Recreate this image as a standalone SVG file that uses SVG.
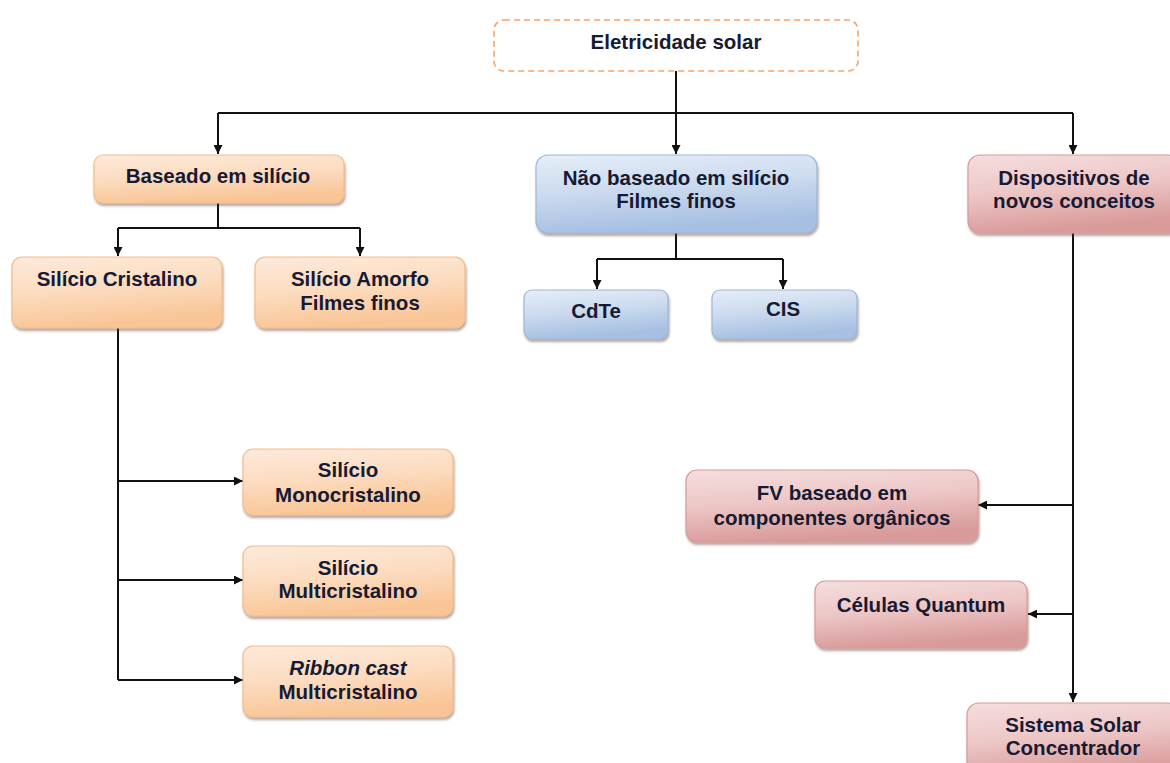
<svg xmlns="http://www.w3.org/2000/svg" width="1170" height="763" viewBox="0 0 1170 763">
<defs>
<linearGradient id="gO" x1="0" y1="0" x2="0.25" y2="1"><stop offset="0" stop-color="#fdeadb"/><stop offset="0.5" stop-color="#fcdcc0"/><stop offset="1" stop-color="#f9c596"/></linearGradient>
<linearGradient id="gB" x1="0" y1="0" x2="0.25" y2="1"><stop offset="0" stop-color="#e6eef8"/><stop offset="0.5" stop-color="#cbdaee"/><stop offset="1" stop-color="#a6bfe2"/></linearGradient>
<linearGradient id="gR" x1="0" y1="0" x2="0.25" y2="1"><stop offset="0" stop-color="#f5dede"/><stop offset="0.5" stop-color="#edc6c6"/><stop offset="1" stop-color="#d99a9a"/></linearGradient>
<filter id="sh" x="-10%" y="-10%" width="120%" height="130%"><feDropShadow dx="1" dy="2.5" stdDeviation="1" flood-color="#5a3a2a" flood-opacity="0.45"/></filter>
<marker id="ah" viewBox="0 0 10 10" refX="10" refY="5" markerWidth="9" markerHeight="9" markerUnits="userSpaceOnUse" orient="auto"><path d="M0,0 L10,5 L0,10 z" fill="#111"/></marker>
<style>
.t{font-family:"Liberation Sans",Arial,sans-serif;font-weight:bold;font-size:20.5px;fill:#171a33;text-anchor:middle}
.o{fill:url(#gO);stroke:#f6bb8a;stroke-width:1.2;filter:url(#sh)}
.b{fill:url(#gB);stroke:#9cb7da;stroke-width:1.2;filter:url(#sh)}
.r{fill:url(#gR);stroke:#d9999a;stroke-width:1.2;filter:url(#sh)}
.c{fill:none;stroke:#111;stroke-width:2}
.a{marker-end:url(#ah)}
</style>
</defs>
<g id="connectors">
<path class="c" d="M676,71 V113"/>
<path class="c" d="M218,113 H1073"/>
<path class="c a" d="M218,113 V154"/>
<path class="c a" d="M676,113 V154"/>
<path class="c a" d="M1073,113 V154"/>
<path class="c" d="M218,203 V228 M118,228 H360"/>
<path class="c a" d="M118,228 V256"/>
<path class="c a" d="M360,228 V256"/>
<path class="c" d="M676,233 V259 M597,259 H783"/>
<path class="c a" d="M597,259 V289"/>
<path class="c a" d="M783,259 V289"/>
<path class="c" d="M118,328 V680"/>
<path class="c a" d="M118,481 H243"/>
<path class="c a" d="M118,580 H243"/>
<path class="c a" d="M118,680 H243"/>
<path class="c" d="M1073,233 V614"/>
<path class="c a" d="M1073,614 V702"/>
<path class="c a" d="M1073,505 H978"/>
<path class="c a" d="M1073,614 H1028"/>
</g>
<g id="n-eletricidade">
<rect x="494" y="20" width="364" height="51" rx="10" fill="#fff" stroke="#f6a468" stroke-width="1.6" stroke-dasharray="6,4"/>
<text class="t" x="676" y="49">Eletricidade solar</text>
</g>
<g id="n-baseado">
<rect class="o" x="94" y="155" width="250" height="48" rx="9"/>
<text class="t" x="218" y="183">Baseado em silício</text>
</g>
<g id="n-nao-baseado">
<rect class="b" x="536" y="155" width="281" height="78" rx="12"/>
<text class="t" x="676" y="185">Não baseado em silício</text>
<text class="t" x="676" y="208">Filmes finos</text>
</g>
<g id="n-dispositivos">
<rect class="r" x="968" y="155" width="212" height="78" rx="12"/>
<text class="t" x="1074" y="185">Dispositivos de</text>
<text class="t" x="1074" y="208">novos conceitos</text>
</g>
<g id="n-cristalino">
<rect class="o" x="12" y="257" width="210" height="71" rx="10"/>
<text class="t" x="117" y="286">Silício Cristalino</text>
</g>
<g id="n-amorfo">
<rect class="o" x="255" y="257" width="210" height="71" rx="10"/>
<text class="t" x="360" y="286">Silício Amorfo</text>
<text class="t" x="360" y="310">Filmes finos</text>
</g>
<g id="n-cdte">
<rect class="b" x="524" y="290" width="144" height="49" rx="8"/>
<text class="t" x="596" y="318">CdTe</text>
</g>
<g id="n-cis">
<rect class="b" x="712" y="290" width="145" height="49" rx="8"/>
<text class="t" x="783" y="316">CIS</text>
</g>
<g id="n-mono">
<rect class="o" x="243" y="449" width="210" height="66" rx="10"/>
<text class="t" x="348" y="477">Silício</text>
<text class="t" x="348" y="502">Monocristalino</text>
</g>
<g id="n-multi">
<rect class="o" x="243" y="546" width="210" height="70" rx="10"/>
<text class="t" x="348" y="575">Silício</text>
<text class="t" x="348" y="598">Multicristalino</text>
</g>
<g id="n-ribbon">
<rect class="o" x="243" y="646" width="210" height="71" rx="10"/>
<text class="t" x="348" y="675" font-style="italic">Ribbon cast</text>
<text class="t" x="348" y="699">Multicristalino</text>
</g>
<g id="n-fv">
<rect class="r" x="686" y="470" width="292" height="72" rx="11"/>
<text class="t" x="832" y="500">FV baseado em</text>
<text class="t" x="832" y="525">componentes orgânicos</text>
</g>
<g id="n-quantum">
<rect class="r" x="815" y="581" width="212" height="67" rx="10"/>
<text class="t" x="921" y="612">Células Quantum</text>
</g>
<g id="n-sistema">
<rect class="r" x="967" y="703" width="213" height="78" rx="12"/>
<text class="t" x="1073" y="732">Sistema Solar</text>
<text class="t" x="1073" y="755">Concentrador</text>
</g>
</svg>
